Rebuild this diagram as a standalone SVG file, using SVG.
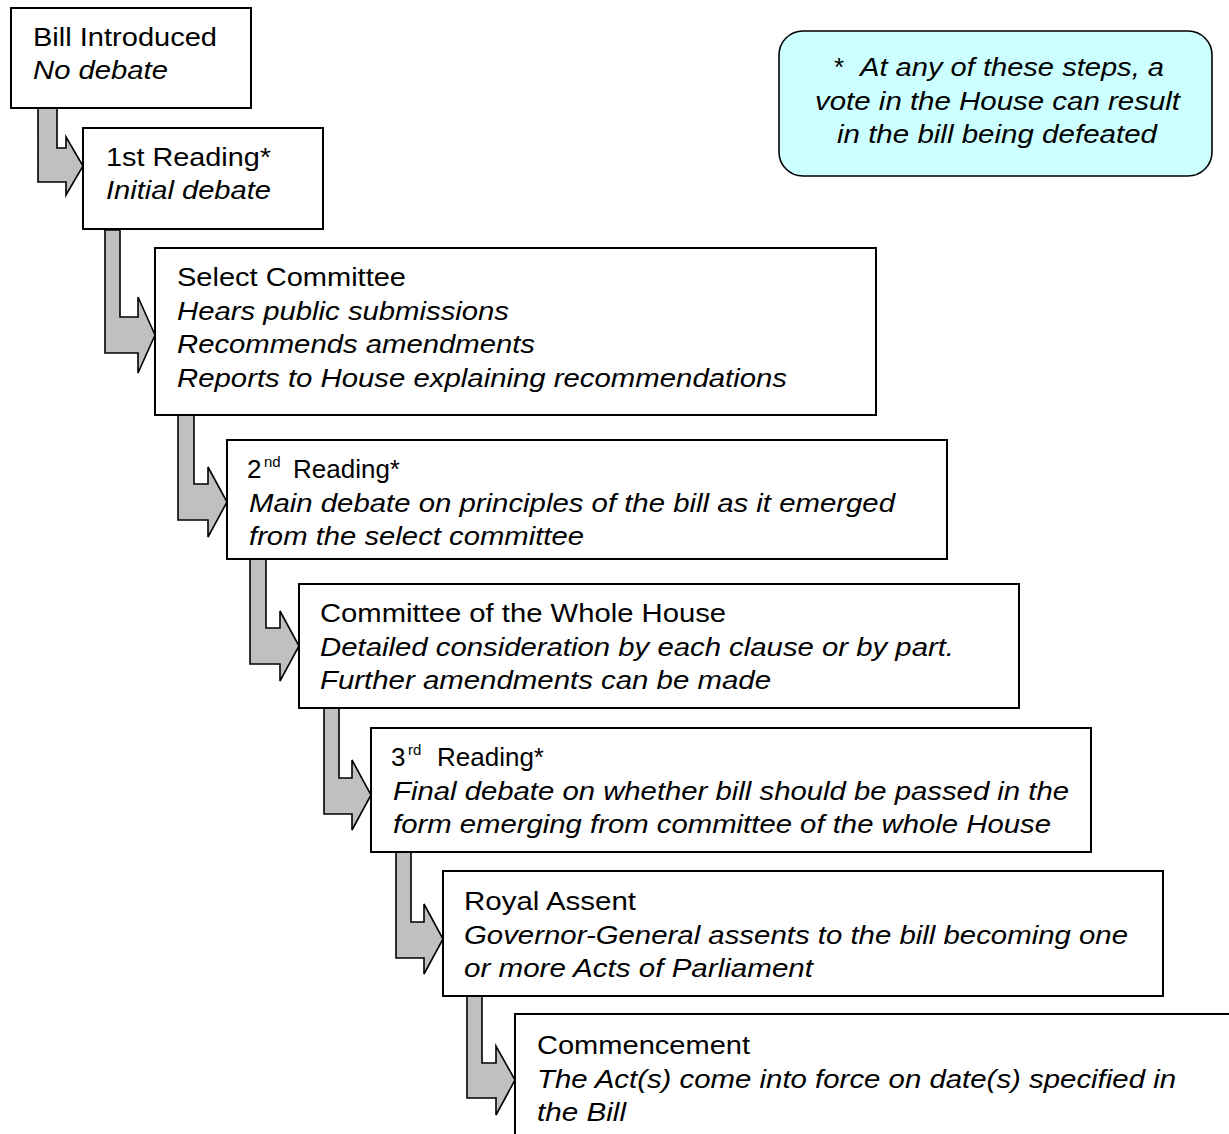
<svg xmlns="http://www.w3.org/2000/svg" width="1229" height="1134" viewBox="0 0 1229 1134">
<style>
.box{fill:#ffffff;stroke:#000000;stroke-width:2}
.arr{fill:#c0c0c0;stroke:#000000;stroke-width:1.6;stroke-linejoin:miter}
.note{fill:#ccffff;stroke:#000000;stroke-width:1.6}
text{font-family:"Liberation Sans",Arial,sans-serif;font-size:26px;fill:#000000}
.i{font-style:italic}
.sup{font-size:15px}
</style>
<rect width="1229" height="1134" fill="#ffffff"/>
<g id="connectors">
<path class="arr" d="M38,108 L57,108 L57,148 L66,148 L66,137 L83,166 L66,195 L66,182 L38,182 Z"/>
<path class="arr" d="M105,230 L120,230 L120,317 L138,317 L138,297 L155,335 L138,373 L138,353 L105,353 Z"/>
<path class="arr" d="M178,415 L194,415 L194,484 L208,484 L208,467 L227,502 L208,537 L208,520 L178,520 Z"/>
<path class="arr" d="M250,559 L266,559 L266,628 L280,628 L280,611 L299,646 L280,681 L280,664 L250,664 Z"/>
<path class="arr" d="M324,708 L339,708 L339,778 L352,778 L352,760 L371,795 L352,830 L352,814 L324,814 Z"/>
<path class="arr" d="M396,852 L411,852 L411,922 L424,922 L424,904 L443,939 L424,974 L424,958 L396,958 Z"/>
<path class="arr" d="M467,996 L482,996 L482,1063 L496,1063 L496,1046 L515,1080 L496,1115 L496,1098 L467,1098 Z"/>
</g>
<g id="bill-introduced">
<rect class="box" x="11" y="8" width="240" height="100"/>
<text x="33" y="46" textLength="184" lengthAdjust="spacingAndGlyphs">Bill Introduced</text>
<text class="i" x="33" y="79" textLength="135" lengthAdjust="spacingAndGlyphs">No debate</text>
</g>
<g id="first-reading">
<rect class="box" x="83" y="128" width="240" height="101"/>
<text x="106" y="166" textLength="165" lengthAdjust="spacingAndGlyphs">1st Reading*</text>
<text class="i" x="106" y="199" textLength="165" lengthAdjust="spacingAndGlyphs">Initial debate</text>
</g>
<g id="select-committee">
<rect class="box" x="155" y="248" width="721" height="167"/>
<text x="177" y="286" textLength="229" lengthAdjust="spacingAndGlyphs">Select Committee</text>
<text class="i" x="177" y="320" textLength="332" lengthAdjust="spacingAndGlyphs">Hears public submissions</text>
<text class="i" x="177" y="353" textLength="358" lengthAdjust="spacingAndGlyphs">Recommends amendments</text>
<text class="i" x="177" y="387" textLength="610" lengthAdjust="spacingAndGlyphs">Reports to House explaining recommendations</text>
</g>
<g id="second-reading">
<rect class="box" x="227" y="440" width="720" height="119"/>
<text x="247" y="478">2</text>
<text class="sup" x="264" y="467">nd</text>
<text x="293" y="478" textLength="107" lengthAdjust="spacingAndGlyphs">Reading*</text>
<text class="i" x="249" y="512" textLength="646" lengthAdjust="spacingAndGlyphs">Main debate on principles of the bill as it emerged</text>
<text class="i" x="249" y="545" textLength="335" lengthAdjust="spacingAndGlyphs">from the select committee</text>
</g>
<g id="committee-whole-house">
<rect class="box" x="299" y="584" width="720" height="124"/>
<text x="320" y="622" textLength="406" lengthAdjust="spacingAndGlyphs">Committee of the Whole House</text>
<text class="i" x="320" y="656" textLength="634" lengthAdjust="spacingAndGlyphs">Detailed consideration by each clause or by part.</text>
<text class="i" x="320" y="689" textLength="451" lengthAdjust="spacingAndGlyphs">Further amendments can be made</text>
</g>
<g id="third-reading">
<rect class="box" x="371" y="728" width="720" height="124"/>
<text x="391" y="766">3</text>
<text class="sup" x="408" y="755">rd</text>
<text x="437" y="766" textLength="107" lengthAdjust="spacingAndGlyphs">Reading*</text>
<text class="i" x="393" y="800" textLength="676" lengthAdjust="spacingAndGlyphs">Final debate on whether bill should be passed in the</text>
<text class="i" x="393" y="833" textLength="658" lengthAdjust="spacingAndGlyphs">form emerging from committee of the whole House</text>
</g>
<g id="royal-assent">
<rect class="box" x="443" y="871" width="720" height="125"/>
<text x="464" y="910" textLength="172" lengthAdjust="spacingAndGlyphs">Royal Assent</text>
<text class="i" x="464" y="944" textLength="664" lengthAdjust="spacingAndGlyphs">Governor-General assents to the bill becoming one</text>
<text class="i" x="464" y="977" textLength="349" lengthAdjust="spacingAndGlyphs">or more Acts of Parliament</text>
</g>
<g id="commencement">
<rect class="box" x="515" y="1014" width="800" height="200"/>
<text x="537" y="1054" textLength="213" lengthAdjust="spacingAndGlyphs">Commencement</text>
<text class="i" x="537" y="1088" textLength="639" lengthAdjust="spacingAndGlyphs">The Act(s) come into force on date(s) specified in</text>
<text class="i" x="537" y="1121" textLength="89" lengthAdjust="spacingAndGlyphs">the Bill</text>
</g>
<g id="note">
<rect class="note" x="779" y="31" width="433" height="145" rx="24" ry="24"/>
<text x="834" y="76">*</text>
<text class="i" x="860" y="76" textLength="304" lengthAdjust="spacingAndGlyphs">At any of these steps, a</text>
<text class="i" x="815" y="110" textLength="365" lengthAdjust="spacingAndGlyphs">vote in the House can result</text>
<text class="i" x="837" y="143" textLength="320" lengthAdjust="spacingAndGlyphs">in the bill being defeated</text>
</g>
</svg>
